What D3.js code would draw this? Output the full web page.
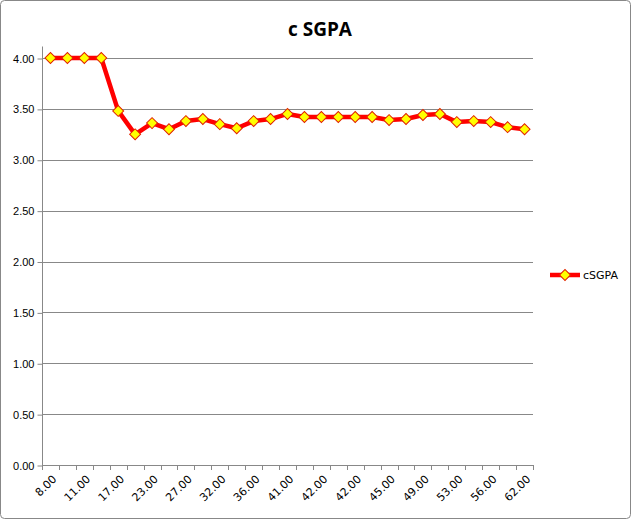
<!DOCTYPE html>
<html><head><meta charset="utf-8">
<script src="https://cdn.jsdelivr.net/npm/d3@7"></script>
<style>body{margin:0;background:#fff;font-family:"DejaVu Sans",sans-serif}</style>
</head><body><svg id="c" width="631" height="519"></svg>
<script>
// categories (x) and cSGPA values
var categories = ["8.00","9.00","11.00","14.00","17.00","20.00","23.00","25.00","27.00","30.00","32.00","34.00","36.00","39.00","41.00","41.50","42.00","42.20","42.00","43.00","45.00","47.00","49.00","51.00","53.00","54.00","56.00","59.00","62.00"];
var cSGPA = [4.00,4.00,4.00,4.00,3.48,3.25,3.36,3.30,3.38,3.40,3.35,3.31,3.38,3.40,3.45,3.42,3.42,3.42,3.42,3.42,3.39,3.40,3.44,3.45,3.37,3.38,3.37,3.32,3.30];
var yTicks = [0,0.5,1,1.5,2,2.5,3,3.5,4];

(function(){
var svg = d3.select("#c");
svg.append("rect").attr("x",0.5).attr("y",0.5).attr("width",630).attr("height",518)
    .attr("rx",4).attr("fill","#fff").attr("stroke","#888");

var pl = 42, pr = 533, pt = 58, pb = 465;
var idx = d3.range(categories.length);
var x = d3.scaleBand().domain(idx).range([pl,pr]);
var y = d3.scaleLinear().domain([0,4]).range([pb,pt]);
var cx = function(i){return x(i)+x.bandwidth()/2;};

svg.append("text").attr("x",320).attr("y",36).attr("text-anchor","middle")
    .attr("font-family","Open Sans, sans-serif").attr("font-weight","bold").attr("font-size",19).text("c SGPA");

//grid
svg.append("g").selectAll("line").data(yTicks.filter(function(d){return d>0;})).join("line")
    .attr("x1",pl).attr("x2",pr).attr("y1",function(d){return Math.round(y(d))+0.5;}).attr("y2",function(d){return Math.round(y(d))+0.5;})
    .attr("stroke","#888");

var ya = svg.append("g").attr("transform","translate("+(pl+0.5)+",0.5)")
    .call(d3.axisLeft(y).tickValues(yTicks).tickFormat(d3.format(".2f")).tickSize(5).tickPadding(3));
ya.select(".domain").attr("stroke","#888").attr("d","M0,"+(pt-12)+"V"+pb);
ya.selectAll(".tick line").attr("stroke","#888");
ya.selectAll("text").attr("font-size",11).attr("fill","#000");

svg.append("line").attr("x1",pl).attr("x2",pr).attr("y1",pb+0.5).attr("y2",pb+0.5).attr("stroke","#888");
svg.append("g").selectAll("line").data(idx.concat([categories.length])).join("line")
    .attr("x1",function(d){return Math.round(pl + d*x.step())+0.5;})
    .attr("x2",function(d){return Math.round(pl + d*x.step())+0.5;})
    .attr("y1",pb).attr("y2",pb+5).attr("stroke","#888");
svg.append("g").selectAll("text").data(idx.filter(function(d){return d%2===0;})).join("text")
    .attr("transform",function(d){return "translate("+(cx(d)+4)+","+(pb+12)+") rotate(-45)";})
    .attr("text-anchor","end").attr("dy","0.35em").attr("font-size",11).attr("fill","#000")
    .text(function(d){return categories[d];});

var line = d3.line().x(function(d,i){return cx(i);}).y(function(d){return y(d);});
svg.append("path").datum(cSGPA).attr("d",line).attr("fill","none").attr("stroke","#ff0000")
    .attr("stroke-width",4.5).attr("stroke-linejoin","round");
svg.append("g").selectAll("path").data(cSGPA).join("path")
    .attr("transform",function(d,i){return "translate("+cx(i)+","+y(d)+") rotate(45)";})
    .attr("d",d3.symbol().type(d3.symbolSquare).size(60))
    .attr("fill","#ffff00").attr("stroke","#e02000").attr("stroke-width",1);

//legend
svg.append("line").attr("x1",550).attr("x2",580).attr("y1",275).attr("y2",275).attr("stroke","#ff0000").attr("stroke-width",4.5);
svg.append("path").attr("transform","translate(565,275) rotate(45)").attr("d",d3.symbol().type(d3.symbolSquare).size(60))
    .attr("fill","#ffff00").attr("stroke","#e02000");
svg.append("text").attr("x",583).attr("y",279).attr("font-size",11).text("cSGPA");
})();
</script></body></html>
